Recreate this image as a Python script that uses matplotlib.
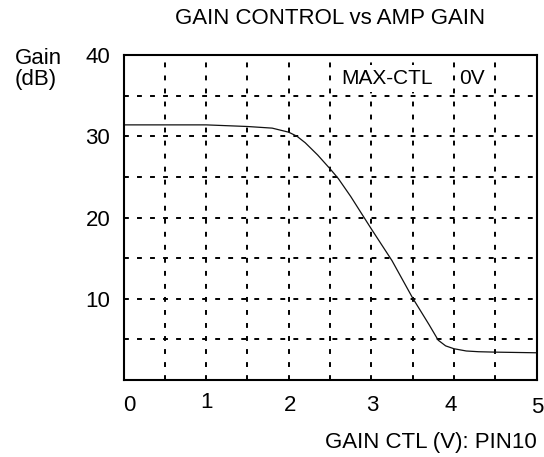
import matplotlib
matplotlib.use("Agg")
import matplotlib.pyplot as plt
import matplotlib.transforms as mtransforms

plt.rcParams['font.family'] = ['Liberation Sans', 'DejaVu Sans']

# data
ctl_v = [0.0, 0.5, 1.0, 1.5, 1.8, 2.0, 2.1, 2.2, 2.35, 2.5, 2.6, 2.75, 2.9, 3.0,
         3.25, 3.5, 3.7, 3.81, 3.9, 4.0, 4.15, 4.3, 4.5, 5.0]
gain_db = [31.4, 31.4, 31.4, 31.2, 31.0, 30.5, 30.0, 29.2, 27.7, 26.0, 24.8, 22.6,
           20.2, 18.6, 14.7, 10.1, 6.8, 4.9, 4.2, 3.85, 3.57, 3.48, 3.43, 3.35]
x_ticks = [0, 1, 2, 3, 4, 5]
y_ticks = [10, 20, 30, 40]
x_grid = [0.5, 1, 1.5, 2, 2.5, 3, 3.5, 4, 4.5]
y_grid = [5, 10, 15, 20, 25, 30, 35]

title = "GAIN CONTROL vs AMP GAIN"
xlabel = "GAIN CTL (V): PIN10"
ylabel_lines = ["Gain", "(dB)"]
note_left = "MAX-CTL"
note_right = "0V"

W, H = 544, 457
DPI = 100
fig = plt.figure(figsize=(W / DPI, H / DPI), dpi=DPI)
left, right, top, bottom = 123.5, 536.5, 55, 380
ax = fig.add_axes([left / W, 1 - bottom / H, (right - left) / W, (bottom - top) / H])
ax.set_xlim(0, 5)
ax.set_ylim(0, 40)

for gx in x_grid:
    ax.axvline(gx, color='black', lw=1.4, dashes=(2.5, 4.2), zorder=1)
for gy in y_grid:
    ax.axhline(gy, color='black', lw=1.4, dashes=(2.5, 4.2), zorder=1)

ax.plot(ctl_v, gain_db, color='#111111', lw=0.9, zorder=3)

for s in ax.spines.values():
    s.set_linewidth(1.5)
    s.set_zorder(5)

fs = 16
ax.set_xticks(x_ticks)
ax.set_yticks(y_ticks)
ax.set_xticklabels([str(v) for v in x_ticks])
ax.set_yticklabels([str(v) for v in y_ticks])
ax.tick_params(length=0, labelsize=fs)
ax.tick_params(axis='y', pad=9.5)
ax.tick_params(axis='x', pad=22.1)

# small per-label offsets as seen in the reference (pixels)
x_off = [(5.5, 0), (0.5, 3), (1, 0), (1, 0), (-3, 0), (0.5, -2)]
for lab, (dx, dy) in zip(ax.get_xticklabels(), x_off):
    lab.set_verticalalignment('baseline')
    lab.set_transform(lab.get_transform() +
                      mtransforms.ScaledTranslation(dx / DPI, dy / DPI, fig.dpi_scale_trans))

fig.text(330 / W, 1 - 24 / H, title, ha='center', va='baseline', fontsize=fs)
fig.text(536.7 / W, 1 - 448.3 / H, xlabel, ha='right', va='baseline', fontsize=fs)
fig.text(15 / W, 1 - 64 / H, ylabel_lines[0], ha='left', va='baseline', fontsize=fs)
fig.text(15 / W, 1 - 84.5 / H, ylabel_lines[1], ha='left', va='baseline', fontsize=fs)

ax.text((341 - left) / (right - left), (bottom - 84) / (bottom - top), note_left,
        transform=ax.transAxes, ha='left', va='baseline',
        fontsize=15, zorder=4,
        bbox=dict(facecolor='white', edgecolor='none', pad=2.5))
ax.text((459 - left) / (right - left), (bottom - 84) / (bottom - top), note_right,
        transform=ax.transAxes, ha='left', va='baseline',
        fontsize=15, zorder=4,
        bbox=dict(facecolor='white', edgecolor='none', pad=1.0))

fig.savefig("out.png", dpi=DPI)
